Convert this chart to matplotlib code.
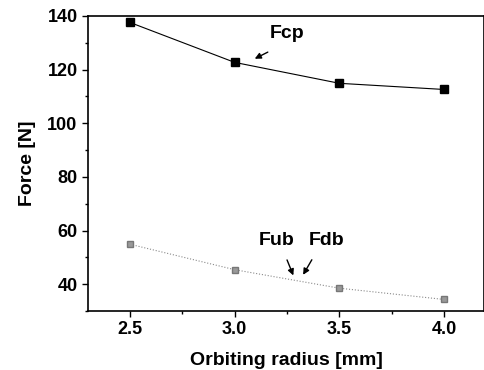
import numpy as np
import matplotlib.pyplot as plt
from matplotlib.ticker import MultipleLocator

# Data
radius = [2.5, 3.0, 3.5, 4.0]
fcp = [137.6, 122.7, 114.9, 112.6]
fub_fdb = [54.9, 45.4, 38.5, 34.3]

plt.rcParams['font.family'] = ['Liberation Sans', 'DejaVu Sans']
plt.rcParams['font.weight'] = 'bold'

fig = plt.figure(figsize=(4.85, 3.7), dpi=100)
ax = fig.add_axes([88 / 485, 1 - 311 / 370, 396 / 485, 295 / 370])

# Upper curve: centripetal force
ax.plot(radius, fcp, color='black', linewidth=0.8, marker='s', markersize=5.5)
# Lower curve: bearing forces
ax.plot(radius, fub_fdb, color='#8a8a8a', linewidth=0.8, linestyle=':',
        marker='s', markersize=5, markerfacecolor='#999999', markeredgecolor='#777777')

ax.set_xlim(2.3, 4.19)
ax.set_ylim(30, 140)
ax.set_xticks(radius)
ax.set_yticks([40, 60, 80, 100, 120, 140])
ax.xaxis.set_minor_locator(MultipleLocator(0.25))
ax.yaxis.set_minor_locator(MultipleLocator(10))
ax.tick_params(which='major', direction='out', length=4, width=1, labelsize=13)
ax.tick_params(which='minor', direction='out', length=2.5, width=1)
for lbl in ax.get_xticklabels() + ax.get_yticklabels():
    lbl.set_fontweight('bold')
for sp in ax.spines.values():
    sp.set_linewidth(1.2)

ax.set_xlabel('Orbiting radius [mm]', fontsize=14, fontweight='bold', labelpad=10)
ax.set_ylabel('Force [N]', fontsize=14, fontweight='bold', labelpad=8)

arrow = dict(arrowstyle='-|>', color='black', lw=1, mutation_scale=9)
ax.annotate('', xy=(3.084, 123.6), xytext=(3.17, 127.0), arrowprops=arrow)
ax.text(3.25, 133.3, 'Fcp', fontsize=14, fontweight='bold', ha='center', va='center')
ax.annotate('', xy=(3.285, 42.3), xytext=(3.245, 50), arrowprops=arrow)
ax.annotate('', xy=(3.32, 42.6), xytext=(3.375, 50), arrowprops=arrow)
ax.text(3.20, 56.4, 'Fub', fontsize=14, fontweight='bold', ha='center', va='center')
ax.text(3.44, 56.4, 'Fdb', fontsize=14, fontweight='bold', ha='center', va='center')

fig.savefig('out.png', dpi=100)
